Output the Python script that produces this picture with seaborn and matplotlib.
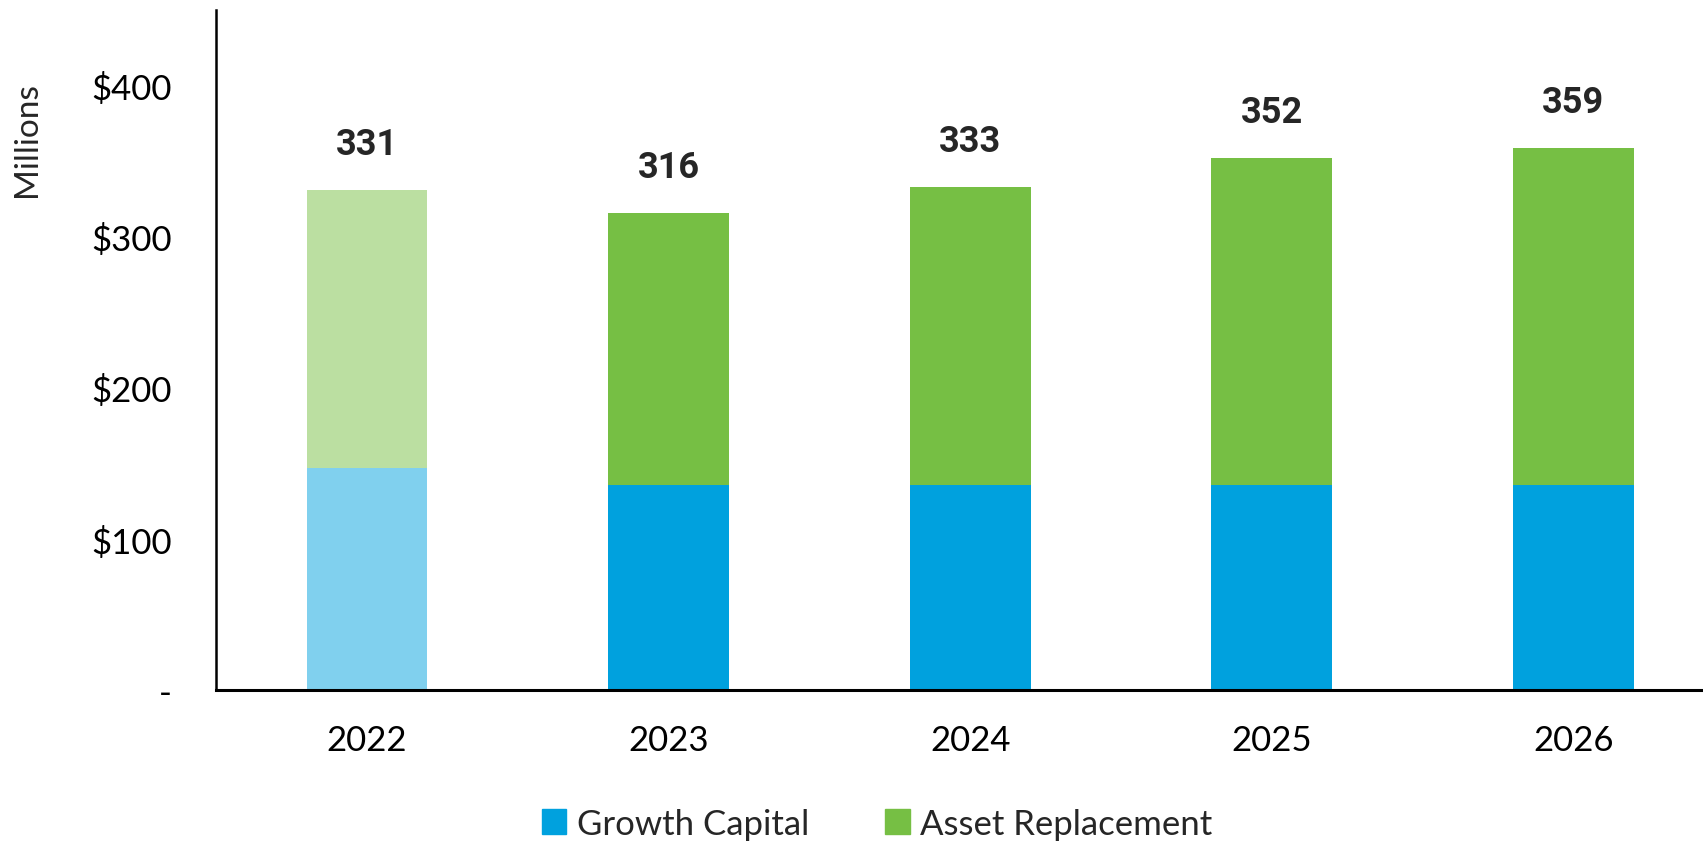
import matplotlib
matplotlib.use("Agg")
import matplotlib.pyplot as plt
from matplotlib.patches import Patch
import seaborn as sns
import pandas as pd

# --------------------------
# Data ($ millions)
# --------------------------
years = ["2022", "2023", "2024", "2025", "2026"]
growth_capital = [147, 136, 136, 136, 136]
totals = [331, 316, 333, 352, 359]
asset_replacement = [t - g for t, g in zip(totals, growth_capital)]
total_labels = ["331", "316", "333", "352", "359"]

df = pd.DataFrame({"year": years, "growth": growth_capital,
                   "asset": asset_replacement, "total": totals})

blue = "#00A1DE"
green = "#76BF44"
blue_light = "#80D0EE"
green_light = "#BBDFA1"

sns.set_style("white")
plt.rcParams["font.family"] = ["Lato", "DejaVu Sans"]

fig = plt.figure(figsize=(17.03, 8.45), dpi=100)
ax = fig.add_axes([0.127, 0.182, 0.873, 0.805])

# stacked: draw totals (green) first, then growth (blue) over the bottom part
green_pal = [green_light] + [green] * 4
blue_pal = [blue_light] + [blue] * 4
sns.barplot(data=df, x="year", y="total", hue="year", palette=green_pal,
            width=0.4, legend=False, ax=ax, saturation=1, linewidth=0)
sns.barplot(data=df, x="year", y="growth", hue="year", palette=blue_pal,
            width=0.4, legend=False, ax=ax, saturation=1, linewidth=0)

for i, (t, lab) in enumerate(zip(totals, total_labels)):
    ax.annotate(lab, (i, t), xytext=(0, 20), textcoords="offset points",
                ha="center", va="bottom", fontsize=26, fontweight="bold",
                family=["Roboto", "DejaVu Sans"])

ax.set_ylim(0, 450)
ax.set_xlim(-0.5, 4.43)
ax.set_yticks([0, 100, 200, 300, 400])
ax.set_yticklabels(["-", "$100", "$200", "$300", "$400"])
ax.set_xlabel("")
ax.set_ylabel("")
ax.tick_params(axis="both", labelsize=25, length=0, colors="black")
ax.tick_params(axis="y", pad=32)
ax.tick_params(axis="x", pad=24)

for s in ["top", "right"]:
    ax.spines[s].set_visible(False)
ax.spines["left"].set_color("black")
ax.spines["left"].set_linewidth(1.8)
ax.spines["bottom"].set_color("black")
ax.spines["bottom"].set_linewidth(2.2)

fig.text(0.016, 0.835, "Millions", rotation=90, ha="center", va="center",
         fontsize=24)

handles = [Patch(color=blue, label="Growth Capital"),
           Patch(color=green, label="Asset Replacement")]
fig.legend(handles=handles, loc="center", bbox_to_anchor=(0.515, 0.024),
           ncol=2, frameon=False, fontsize=25, handlelength=0.7,
           handleheight=0.7, handletextpad=0.3, columnspacing=2.2)

fig.savefig("out.png", dpi=100)
